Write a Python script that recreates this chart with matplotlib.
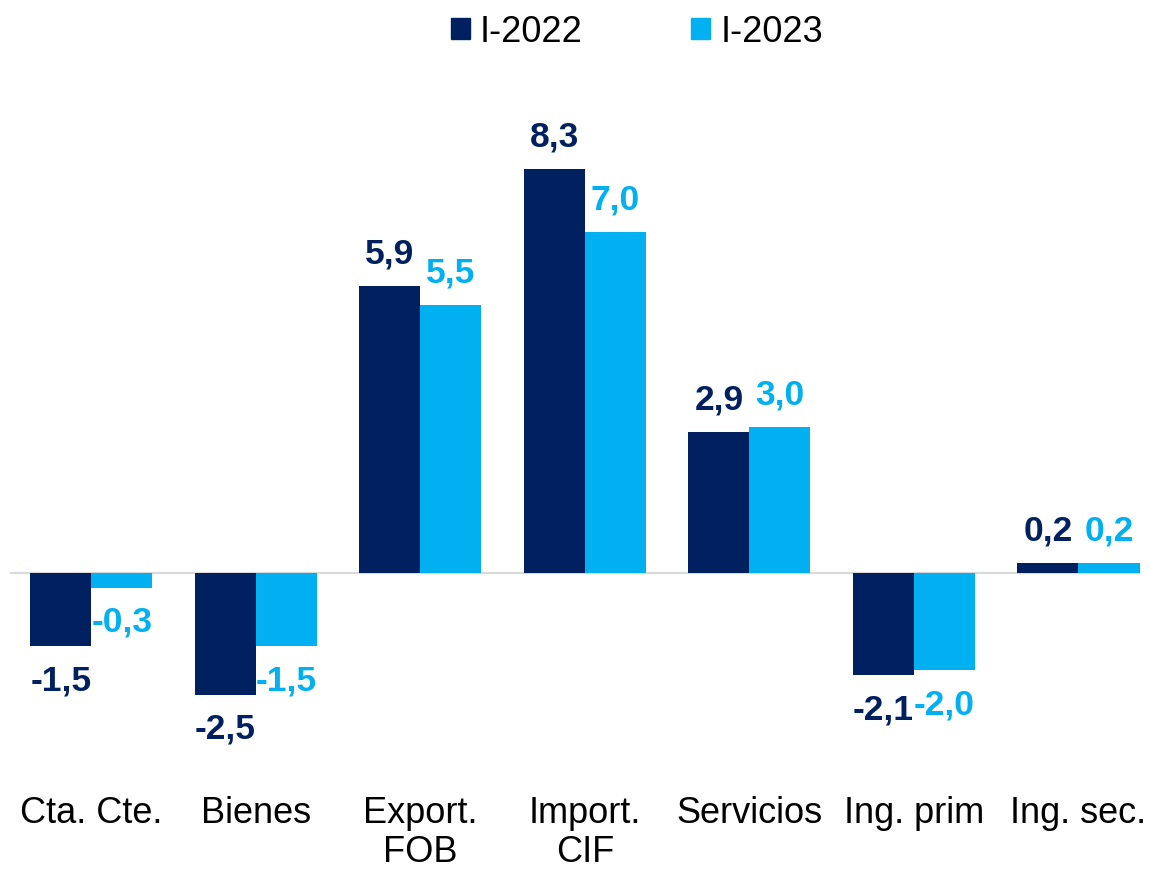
import numpy as np
import matplotlib.pyplot as plt
from matplotlib.patches import Patch

plt.rcParams['font.family'] = ['Liberation Sans', 'DejaVu Sans']

# balance de pagos, variaciones por componente
categorias = ['Cta. Cte.', 'Bienes', 'Export.\nFOB', 'Import.\nCIF', 'Servicios', 'Ing. prim', 'Ing. sec.']
series = ['I-2022', 'I-2023']
valores_2022 = [-1.5, -2.5, 5.9, 8.3, 2.9, -2.1, 0.2]
valores_2023 = [-0.3, -1.5, 5.5, 7.0, 3.0, -2.0, 0.2]

colores = ['#002060', '#00B0F0']

fig = plt.figure(figsize=(11.5, 8.69), dpi=100)
ax = fig.add_axes([10 / 1150, 109 / 869, 1130 / 1150, 700 / 869])

x = np.arange(len(categorias))
ancho = 0.371

for k, vals in enumerate([valores_2022, valores_2023]):
    pos = x + (k - 0.5) * ancho
    ax.bar(pos, vals, width=ancho, color=colores[k], label=series[k], zorder=2)
    for xi, v in zip(pos, vals):
        txt = f'{v:.1f}'.replace('.', ',')
        dy = 23 if v >= 0 else -25
        ax.annotate(txt, (xi, v), xytext=(0, dy), textcoords='offset points',
                    ha='center', va='center', fontsize=25.5, fontweight='bold',
                    color=colores[k])

ax.axhline(0, color='#D9D9D9', lw=1.5, zorder=1)

ax.set_xlim(-0.495, 6.374)
ax.set_ylim(-3.84, 10.53)
ax.set_yticks([])
ax.set_xticks([])
for s in ax.spines.values():
    s.set_visible(False)

for xi, cat in zip(x, categorias):
    ax.text(xi, -4.58, cat, ha='center', va='top', fontsize=26,
            linespacing=1.14, color='black')

handles = [Patch(color=c) for c in colores]
fig.legend(handles, series, loc='center', bbox_to_anchor=(637 / 1150, 1 - 32 / 869),
           ncol=2, frameon=False, fontsize=26, handlelength=0.53, handleheight=0.53,
           handletextpad=0.28, columnspacing=3.0)

fig.savefig('out.png', dpi=100)
